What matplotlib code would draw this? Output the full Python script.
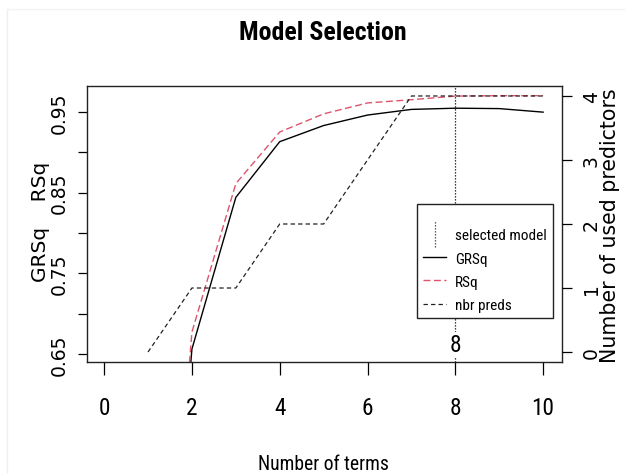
import matplotlib
matplotlib.use("Agg")
import matplotlib.pyplot as plt
from matplotlib import font_manager
from matplotlib.font_manager import FontProperties
from matplotlib.legend_handler import HandlerBase
from matplotlib.lines import Line2D
from matplotlib.textpath import TextPath
import matplotlib.transforms as mtransforms

# ---------------- data ----------------
n_terms = [1, 2, 3, 4, 5, 6, 7, 8, 9, 10]
grsq = [0.0, 0.656, 0.844, 0.913, 0.933, 0.946, 0.953, 0.9545, 0.954, 0.9496]
rsq = [0.0, 0.677, 0.861, 0.925, 0.9475, 0.961, 0.965, 0.9695, 0.970, 0.970]
nbr_preds = [0, 1, 1, 2, 2, 3, 4, 4, 4, 4]
selected_model = 8

x_ticks = [0, 2, 4, 6, 8, 10]
left_ticks = [0.65, 0.70, 0.75, 0.80, 0.85, 0.90, 0.95]
left_tick_labels = ["0.65", "", "0.75", "", "0.85", "", "0.95"]
right_ticks = [0, 1, 2, 3, 4]

title = "Model Selection"
xlabel = "Number of terms"
ylabel_left = "GRSq    RSq"
ylabel_right = "Number of used predictors"
legend_labels = ["selected model", "GRSq", "RSq", "nbr preds"]

# ---------------- fonts ----------------
def find_narrow(bold):
    prefs = ["liberation sans narrow", "arial narrow", "roboto condensed",
             "open sans condensed", "noto sans condensed"]
    found = {}
    for f in font_manager.fontManager.ttflist:
        nm = f.name.lower()
        fn = f.fname.lower().rsplit("/", 1)[-1]
        if f.style != "normal":
            continue
        w = f.weight
        isb = (w == "bold") or (isinstance(w, int) and w >= 600)
        if isb != bold:
            continue
        if isinstance(w, int) and not bold and w < 400:
            continue
        for i, p in enumerate(prefs):
            if p in nm or p.replace(" ", "") in fn.replace("-", "").replace("_", ""):
                if i not in found:
                    found[i] = f.fname
    if found:
        return FontProperties(fname=found[min(found)]), True
    return FontProperties(family="Liberation Sans",
                          weight="bold" if bold else "normal"), False

NARROW_FP, HAVE_NARROW = find_narrow(False)
NARROW_B_FP, _ = find_narrow(True)
if not HAVE_NARROW:
    NARROW_B_FP = FontProperties(family="Liberation Sans", weight="bold")
VERT = "DejaVu Sans"

def size_for(s, target_px, fp, scale=1.1):
    ext = TextPath((0, 0), s, size=100, prop=fp).get_extents()
    return target_px * scale * 72.0 / ext.width

def fp_sized(fp, size):
    p = fp.copy()
    p.set_size(size)
    return p

tick_size = size_for("10", 18, NARROW_FP)
title_size = size_for(title, 150, NARROW_B_FP)
xlabel_size = size_for(xlabel, 117, NARROW_FP)
legend_size = size_for("selected model", 90, NARROW_FP, scale=1.0)

RED = "#DF536B"
W, H = 625, 477
PT = 0.72  # points per pixel at dpi 100

fig = plt.figure(figsize=(W / 100, H / 100), dpi=100)
fig.patch.set_facecolor("white")

ax_l, ax_r, ax_t, ax_b = 87, 562, 87, 363
ax = fig.add_axes([ax_l / W, 1 - ax_b / H, (ax_r - ax_l) / W, (ax_b - ax_t) / H])

ax.plot(n_terms, grsq, color="black", lw=1.0, zorder=3)
ax.plot(n_terms, rsq, color=RED, lw=1.0, dashes=(5, 2.5), zorder=3)
ax.axvline(selected_model, color="black", lw=0.9, linestyle=(0, (1, 1.4)), zorder=2)

ax.set_xlim(-0.39, 10.43)
ax.set_ylim(0.640, 0.982)

# x axis: tick 13 px, digits baseline at y=415
ax.set_xticks(x_ticks)
ax.set_xticklabels([str(v) for v in x_ticks], fontproperties=fp_sized(NARROW_FP, tick_size))
ax.tick_params(axis="x", length=13 * PT, width=0.9, pad=(415 - ax_b - 13) * PT,
               direction="out")
for lab in ax.get_xticklabels():
    lab.set_va("baseline")

# left y axis: tick 9 px, label baseline at x=65
ax.set_yticks(left_ticks)
ax.set_yticklabels(left_tick_labels, fontfamily=VERT, fontsize=13.5)
ax.tick_params(axis="y", length=9 * PT, width=0.9, pad=(ax_l - 9 - 65) * PT,
               direction="out")
for lab in ax.get_yticklabels():
    lab.set_rotation(90)
    lab.set_rotation_mode("anchor")
    lab.set_ha("center")
    lab.set_va("baseline")

for s in ax.spines.values():
    s.set_linewidth(1.0)
    s.set_color("#222222")

ax2 = ax.twinx()
ax2.plot(n_terms, nbr_preds, color="#222222", lw=0.9, dashes=(3.5, 2.5), zorder=3)
ax2.set_ylim(-0.156, 4.156)
ax2.set_yticks(right_ticks)
ax2.set_yticklabels([str(v) for v in right_ticks], fontfamily=VERT, fontsize=13.5)
ax2.tick_params(axis="y", length=10 * PT, width=0.9, pad=(597 - ax_r - 10) * PT,
                direction="out")
for lab in ax2.get_yticklabels():
    lab.set_rotation(90)
    lab.set_rotation_mode("anchor")
    lab.set_ha("center")
    lab.set_va("baseline")
for s in ax2.spines.values():
    s.set_visible(False)

# selected model label (white background hides the dotted line behind it)
trans = mtransforms.blended_transform_factory(ax.transData, ax.transAxes)
ax.text(selected_model, (ax_b - 352) / (ax_b - ax_t), str(selected_model),
        transform=trans, ha="center", va="baseline",
        fontproperties=fp_sized(NARROW_FP, tick_size), zorder=4,
        bbox=dict(facecolor="white", edgecolor="none", pad=1.0))

# ---------------- legend ----------------
class HandlerVLine(HandlerBase):
    def create_artists(self, legend, orig_handle, xdescent, ydescent, width,
                       height, fontsize, trans):
        x = width / 2 - xdescent
        ln = Line2D([x, x], [-ydescent - 0.7 * height, 1.7 * height],
                    color="#333333", lw=0.9, linestyle=(0, (1, 1.4)))
        ln.set_transform(trans)
        return [ln]

sel_handle = Line2D([], [], color="black")
h_grsq = Line2D([], [], color="black", lw=1.0)
h_rsq = Line2D([], [], color=RED, lw=1.0, dashes=(5, 2.5))
h_nbr = Line2D([], [], color="#222222", lw=0.9, dashes=(3.5, 2.5))

leg = ax2.legend([sel_handle, h_grsq, h_rsq, h_nbr], legend_labels,
                 handler_map={sel_handle: HandlerVLine()},
                 loc="lower left",
                 bbox_to_anchor=((417 - ax_l) / (ax_r - ax_l), (ax_b - 319) / (ax_b - ax_t)),
                 borderaxespad=0, prop=fp_sized(NARROW_FP, legend_size),
                 handlelength=1.5, handletextpad=0.6, labelspacing=0.6,
                 borderpad=0.4, fancybox=False, framealpha=1,
                 title=" ", title_fontproperties={"size": 6})
leg.get_frame().set_edgecolor("#222222")
leg.get_frame().set_linewidth(1.0)
leg.set_zorder(10)

# ---------------- titles & labels ----------------
fig.text(323 / W, 1 - 40 / H, title, ha="center", va="baseline",
         fontproperties=fp_sized(NARROW_B_FP, title_size))
fig.text(323 / W, 1 - 470 / H, xlabel, ha="center", va="baseline",
         fontproperties=fp_sized(NARROW_FP, xlabel_size))
fig.text(40 / W, 1 - 222 / H, ylabel_left, ha="center", va="center",
         rotation=90, fontfamily=VERT, fontsize=14.5)
fig.text(610 / W, 1 - 226 / H, ylabel_right, ha="center", va="center",
         rotation=90, fontfamily=VERT, fontsize=14.8)

# faint frame artefact of the screenshot
fig.add_artist(Line2D([7 / W, 7 / W], [1 - 473 / H, 1 - 10 / H],
                      transform=fig.transFigure, color="#eeeeee", lw=1))
fig.add_artist(Line2D([7 / W, 1], [1 - 10 / H, 1 - 10 / H],
                      transform=fig.transFigure, color="#f3f3f3", lw=1))

fig.savefig("out.png", dpi=100, facecolor="white")
